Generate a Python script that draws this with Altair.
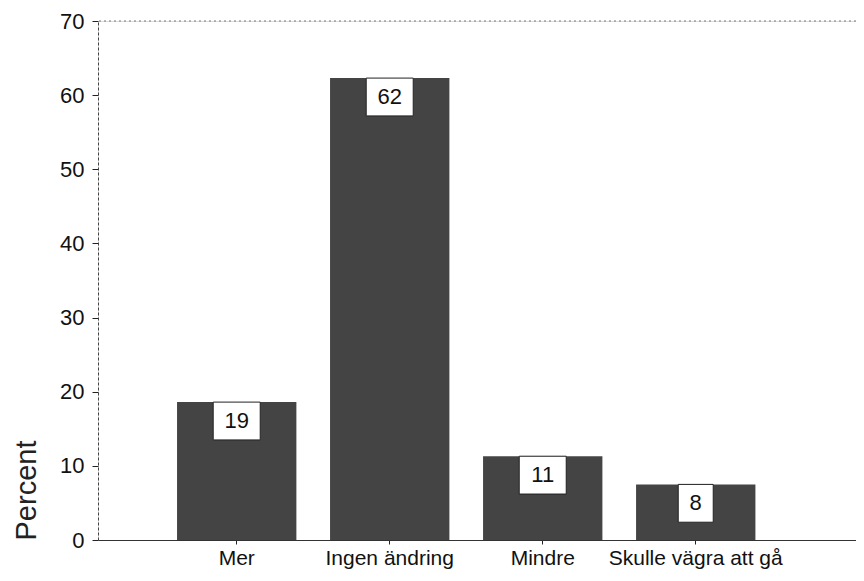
import altair as alt
import pandas as pd

categories = ["Mer", "Ingen ändring", "Mindre", "Skulle vägra att gå"]
values = [18.6, 62.3, 11.3, 7.5]
labels = ["19", "62", "11", "8"]

df = pd.DataFrame({"cat": categories, "v": values, "lab": labels})

FONT = "Liberation Sans, Arial, sans-serif"

xscale = alt.Scale(paddingInner=0.22, paddingOuter=0.587, align=0.44)
yscale = alt.Scale(domain=[0, 70], nice=False)

base = alt.Chart(df)

bars = base.mark_bar(color="#444444").encode(
    x=alt.X("cat:N", sort=categories, scale=xscale,
            axis=alt.Axis(title=None, labelAngle=0, labelFontSize=21, labelFont=FONT,
                          labelColor="#111", tickSize=4, tickColor="#222",
                          domainColor="#333", labelPadding=3)),
    y=alt.Y("v:Q", scale=yscale,
            axis=alt.Axis(title="Percent", values=[0, 10, 20, 30, 40, 50, 60, 70],
                          grid=False, tickSize=6, tickColor="#222", domainColor="#444",
                          domainDash=[3, 2], labelFontSize=22, labelFont=FONT,
                          labelColor="#111", labelPadding=8,
                          titleFontSize=29, titleFont=FONT,
                          titleFontWeight="normal", titleColor="#222",
                          titleAnchor="start", titlePadding=18)),
)

boxes = base.transform_calculate(
    y2="datum.v - 5.1",
    w="length(datum.lab) * 12 + 23",
).mark_bar(color="white", stroke="#222", strokeWidth=1).encode(
    x=alt.X("cat:N", sort=categories, scale=xscale),
    y=alt.Y("v:Q", scale=yscale),
    y2="y2:Q",
    size=alt.Size("w:Q", scale=None, legend=None),
)

texts = base.mark_text(fontSize=22, font=FONT, color="#111", baseline="middle", dy=19).encode(
    x=alt.X("cat:N", sort=categories, scale=xscale),
    y=alt.Y("v:Q", scale=yscale),
    text="lab:N",
)

top = alt.Chart(pd.DataFrame({"t": [70]})).mark_rule(
    color="#777", strokeDash=[2, 3], strokeWidth=1
).encode(y=alt.Y("t:Q", scale=yscale))

chart = alt.layer(bars, boxes, texts, top).properties(
    width=758, height=519,
    autosize=alt.AutoSizeParams(type="none"),
    padding={"left": 90, "top": 13, "right": 0, "bottom": 33},
).configure_view(stroke=None).configure(background="white")

chart.save("out.html", embed_options={"renderer": "svg", "actions": False})
